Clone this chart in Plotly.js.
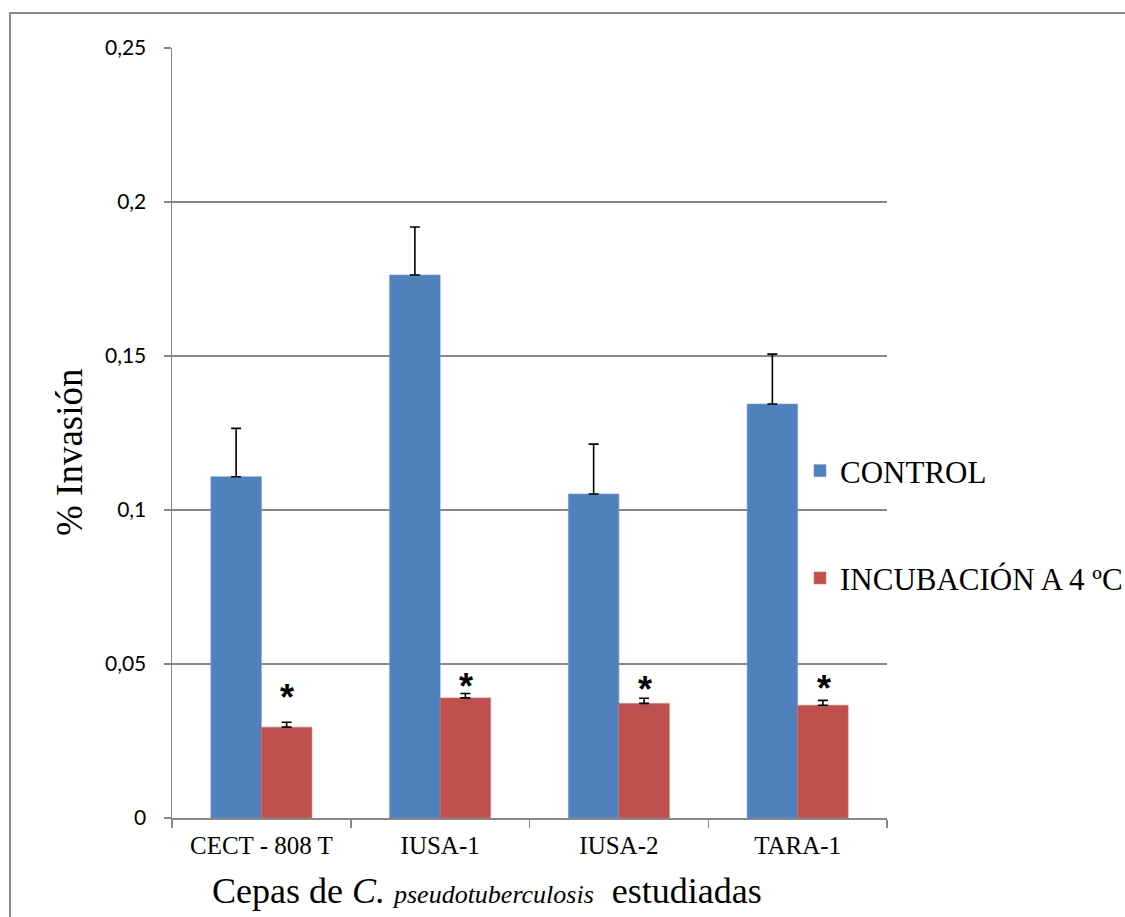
<!DOCTYPE html>
<html>
<head>
<meta charset="utf-8">
<script src="https://cdn.plot.ly/plotly-3.0.1.min.js"></script>
<style>
html,body{margin:0;padding:0;background:#fff;}
#chart{width:1125px;height:917px;}
</style>
</head>
<body>
<div id="chart"></div>
<script>
// ---- data ----
const categories = ['CECT - 808 T', 'IUSA-1', 'IUSA-2', 'TARA-1'];
const controlValues = [0.1108, 0.1763, 0.1052, 0.1344];
const controlErrors = [0.0157, 0.0156, 0.0162, 0.0162];
const coldValues = [0.0295, 0.0390, 0.0372, 0.0366];
const coldErrors = [0.0016, 0.0014, 0.0017, 0.0016];
const significanceLabels = ['*', '*', '*', '*'];
const significanceY = [0.0409, 0.0442, 0.0435, 0.0438];
const yTickValues = [0, 0.05, 0.1, 0.15, 0.2, 0.25];
const yTickLabels = ['0', '0,05', '0,1', '0,15', '0,2', '0,25'];
const seriesNames = ['CONTROL', 'INCUBACIÓN A 4 ºC'];
const yTitle = '% Invasión';
const xTitle = 'Cepas de <i>C. </i><i><span style="font-size:26px">pseudotuberculosis</span></i>  estudiadas';

const serif = '"Liberation Serif", "Times New Roman", serif';
const sans = 'Lato, "Open Sans", sans-serif';
const gridColor = '#888888';

const traces = [
  {
    type: 'bar', name: seriesNames[0], x: categories, y: controlValues,
    marker: {color: '#4F81BD', line: {color: '#6F95C9', width: 0.6}},
    error_y: {type: 'data', symmetric: false, array: controlErrors, arrayminus: controlErrors.map(() => 0),
              color: '#000', thickness: 1.6, width: 5},
    legendgroup: 'a'
  },
  {
    type: 'bar', name: seriesNames[1], x: categories, y: coldValues,
    marker: {color: '#C0504D', line: {color: '#D0706D', width: 0.6}},
    error_y: {type: 'data', symmetric: false, array: coldErrors, arrayminus: coldErrors.map(() => 0),
              color: '#000', thickness: 1.6, width: 5},
    legendgroup: 'b'
  }
];

// pixel helpers
const L = 172, R = 238, T = 48, B = 99, W = 1125, H = 917;
const pw = W - L - R, ph = H - T - B;
const px = v => (v - L) / pw;
const py = v => (H - B - v) / ph;

const annotations = categories.map((c, i) => ({
  x: c, y: significanceY[i], xref: 'x', yref: 'y', xshift: 26, yshift: -5,
  text: '<b>' + significanceLabels[i] + '</b>', showarrow: false,
  xanchor: 'center', yanchor: 'middle',
  font: {family: '"Liberation Sans", Arial, sans-serif', size: 36, color: '#000'}
}));
annotations.push({
  xref: 'paper', yref: 'paper', x: px(487), y: py(891), xanchor: 'center', yanchor: 'middle',
  text: xTitle, showarrow: false, font: {family: serif, size: 36, color: '#000'}
});
annotations.push({
  xref: 'paper', yref: 'paper', x: px(70), y: py(452), xanchor: 'center', yanchor: 'middle',
  text: yTitle, textangle: -90, showarrow: false, font: {family: serif, size: 37, color: '#000'}
});

const layout = {
  width: W, height: H,
  font: {family: serif, color: '#000'},
  margin: {l: L, r: R, t: T, b: B, pad: 0, autoexpand: false},
  paper_bgcolor: '#fff', plot_bgcolor: '#fff',
  barmode: 'group', bargap: 0.435, bargroupgap: 0,
  showlegend: true,
  legend: {
    x: px(800), y: py(444), xanchor: 'left', yanchor: 'top',
    font: {family: serif, size: 31, color: '#000'},
    bgcolor: 'rgba(0,0,0,0)', borderwidth: 0,
    traceorder: 'grouped', tracegroupgap: 64
  },
  xaxis: {
    type: 'category', automargin: false,
    showline: true, linecolor: gridColor, linewidth: 1.5,
    ticks: 'outside', tickson: 'boundaries', ticklen: 8, tickcolor: gridColor, tickwidth: 1.5,
    ticklabelstandoff: 4,
    tickfont: {family: serif, size: 25, color: '#000'},
    showgrid: false, zeroline: false
  },
  yaxis: {
    range: [0, 0.25], automargin: false,
    tickvals: yTickValues, ticktext: yTickLabels,
    showline: true, linecolor: gridColor, linewidth: 1.5,
    ticks: 'outside', ticklen: 7, tickcolor: gridColor, tickwidth: 1.5,
    ticklabelstandoff: 13,
    tickfont: {family: sans, size: 21, color: '#000'},
    showgrid: true, gridcolor: gridColor, gridwidth: 1.5,
    zeroline: false
  },
  annotations: annotations,
  shapes: [{
    type: 'rect', xref: 'paper', yref: 'paper',
    x0: px(10), x1: px(1135), y0: py(930), y1: py(13),
    line: {color: '#8a8a8a', width: 2}, fillcolor: 'rgba(0,0,0,0)', layer: 'below'
  }]
};

Plotly.newPlot('chart', traces, layout, {staticPlot: true, displayModeBar: false});
</script>
</body>
</html>
